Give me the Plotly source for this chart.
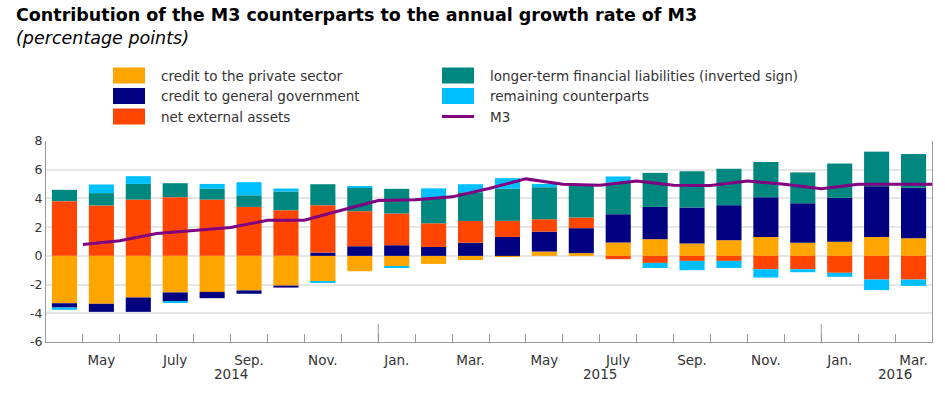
import numpy as np
import plotly.graph_objects as go

# Monthly periods, April 2014 - March 2016
periods = ["2014-04", "2014-05", "2014-06", "2014-07", "2014-08", "2014-09",
           "2014-10", "2014-11", "2014-12", "2015-01", "2015-02", "2015-03",
           "2015-04", "2015-05", "2015-06", "2015-07", "2015-08", "2015-09",
           "2015-10", "2015-11", "2015-12", "2016-01", "2016-02", "2016-03"]

# contributions (percentage points)
credit_private = [-3.30, -3.34, -2.90, -2.55, -2.51, -2.41, -2.07, -1.81, -1.07, -0.77, -0.56, -0.29,
                  -0.04, 0.30, 0.19, 0.93, 1.16, 0.86, 1.09, 1.32, 0.91, 0.98, 1.32, 1.23]
credit_gov = [-0.30, -0.56, -1.00, -0.60, -0.44, -0.23, -0.14, 0.23, 0.67, 0.74, 0.62, 0.92,
              1.32, 1.39, 1.74, 1.97, 2.25, 2.51, 2.44, 2.76, 2.76, 3.06, 3.53, 3.51]
net_external = [3.81, 3.51, 3.92, 4.09, 3.92, 3.41, 3.18, 3.30, 2.44, 2.21, 1.65, 1.51,
                1.12, 0.86, 0.74, -0.23, -0.49, -0.35, -0.35, -0.93, -0.93, -1.18, -1.65, -1.65]
longer_term = [0.79, 0.86, 1.09, 0.97, 0.75, 0.81, 1.30, 1.46, 1.63, 1.72, 1.75, 2.00,
               2.23, 2.23, 2.21, 2.21, 2.37, 2.53, 2.53, 2.46, 2.14, 2.39, 2.41, 2.35]
remaining = [-0.16, 0.60, 0.54, -0.12, 0.34, 0.91, 0.21, -0.07, 0.12, -0.07, 0.68, 0.56,
             0.74, 0.23, 0.00, 0.42, -0.35, -0.65, -0.49, -0.58, -0.21, -0.28, -0.74, -0.44]
m3 = [0.79, 1.05, 1.56, 1.74, 1.97, 2.48, 2.48, 3.18, 3.85, 3.90, 4.11, 4.69,
      5.36, 4.99, 4.92, 5.21, 4.92, 4.90, 5.22, 4.99, 4.67, 4.99, 4.99, 4.99]

month_labels = ["May", "July", "Sep.", "Nov.", "Jan.", "Mar.",
                "May", "July", "Sep.", "Nov.", "Jan.", "Mar."]
year_labels = ["2014", "2015", "2016"]
year_pos = [4.5, 14.5, 22.5]
year_breaks = [8.5, 20.5]
y_ticks = [-6, -4, -2, 0, 2, 4, 6, 8]
y_ticktext = ["-6", "-4", "-2", "0", "2", "4", "6", "8"]

series = [
    ("credit to the private sector", credit_private, "#FFA500"),
    ("credit to general government", credit_gov, "#000080"),
    ("net external assets", net_external, "#FF4500"),
    ("longer-term financial liabilities (inverted sign)", longer_term, "#00877F"),
    ("remaining counterparts", remaining, "#00BFFF"),
]
M3_COLOR = "#800080"
FONT = "DejaVu Sans"
TXT = "#333333"

x = np.arange(len(periods))

fig = go.Figure()
for name, vals, col in series:
    fig.add_trace(go.Bar(x=x, y=vals, name=name, marker=dict(color=col, line=dict(width=0)),
                         showlegend=False))
# M3 is drawn at the month boundaries
fig.add_trace(go.Scatter(x=x + 0.5, y=m3, name="M3", mode="lines",
                         line=dict(color=M3_COLOR, width=3), showlegend=False))

# pixel -> paper helpers (plot area 46..932 x 141..342)
def px(v):
    return (v - 46) / 886

def py(v):
    return (342 - v) / 201

shapes, annots = [], []
# hand-made legend, two columns of three
legend_items = [(n, c, "bar") for n, _, c in series] + [("M3", M3_COLOR, "line")]
cols_x = [113, 442]
rows_y = [75.5, 96, 116.5]
for k, (name, col, kind) in enumerate(legend_items):
    cx, ry = cols_x[k // 3], rows_y[k % 3]
    if kind == "bar":
        shapes.append(dict(type="rect", xref="paper", yref="paper", x0=px(cx), x1=px(cx + 32),
                           y0=py(ry + 8), y1=py(ry - 8), fillcolor=col, line=dict(width=0)))
    else:
        shapes.append(dict(type="line", xref="paper", yref="paper", x0=px(cx), x1=px(cx + 32),
                           y0=py(ry), y1=py(ry), line=dict(color=col, width=3)))
    annots.append(dict(text=name, xref="paper", yref="paper", x=px(cx + 46), y=py(ry),
                       xanchor="left", yanchor="middle", showarrow=False,
                       font=dict(size=13.5, color=TXT, family=FONT)))

# longer ticks at year changes
for b in year_breaks:
    shapes.append(dict(type="line", xref="x", yref="paper", x0=b, x1=b, y0=0, y1=18 / 201,
                       line=dict(color="#999999", width=1)))
for lab, pos in zip(year_labels, year_pos):
    annots.append(dict(text=lab, xref="x", yref="paper", x=pos, y=py(374),
                       xanchor="center", yanchor="middle", showarrow=False,
                       font=dict(size=13.5, color=TXT, family=FONT)))

# title and unit as one two-line block
annots.append(dict(text="<b>Contribution of the M3 counterparts to the annual growth rate of M3</b>"
                        "<br><i>(percentage points)</i>",
                   xref="paper", yref="paper", x=px(14), y=py(2.5), xanchor="left", yanchor="top",
                   align="left", showarrow=False,
                   font=dict(size=17.5, color="#000000", family=FONT)))

fig.update_layout(
    width=945, height=408,
    margin=dict(l=46, r=13, t=141, b=66),
    barmode="relative", bargap=0.32,
    plot_bgcolor="white", paper_bgcolor="white",
    font=dict(family=FONT, color=TXT, size=12),
    shapes=shapes, annotations=annots,
)
fig.update_xaxes(
    range=[-0.5, len(periods) - 0.5],
    tickmode="array", tickvals=x[1::2], ticktext=month_labels, ticks="",
    tickfont=dict(size=13.5, color=TXT), ticklabelstandoff=6,
    minor=dict(tickmode="array", tickvals=list(x[:-1] + 0.5), ticks="inside", ticklen=8,
               tickcolor="#999999", showgrid=False),
    showgrid=False, zeroline=False, showline=True, linecolor="#999999", linewidth=1,
)
fig.update_yaxes(
    range=[-6, 8], tickmode="array", tickvals=y_ticks, ticktext=y_ticktext,
    showgrid=True, gridcolor="#e6e6e6", gridwidth=1.5, zeroline=False,
    showline=True, mirror=True, linecolor="#999999", linewidth=1,
    tickfont=dict(size=12.5, color=TXT), ticks="",
)

# drop the default page margin so the figure sits at the window corner
fig.write_html("out.html", config={"displayModeBar": False},
               post_script="document.body.style.margin = '0';")
